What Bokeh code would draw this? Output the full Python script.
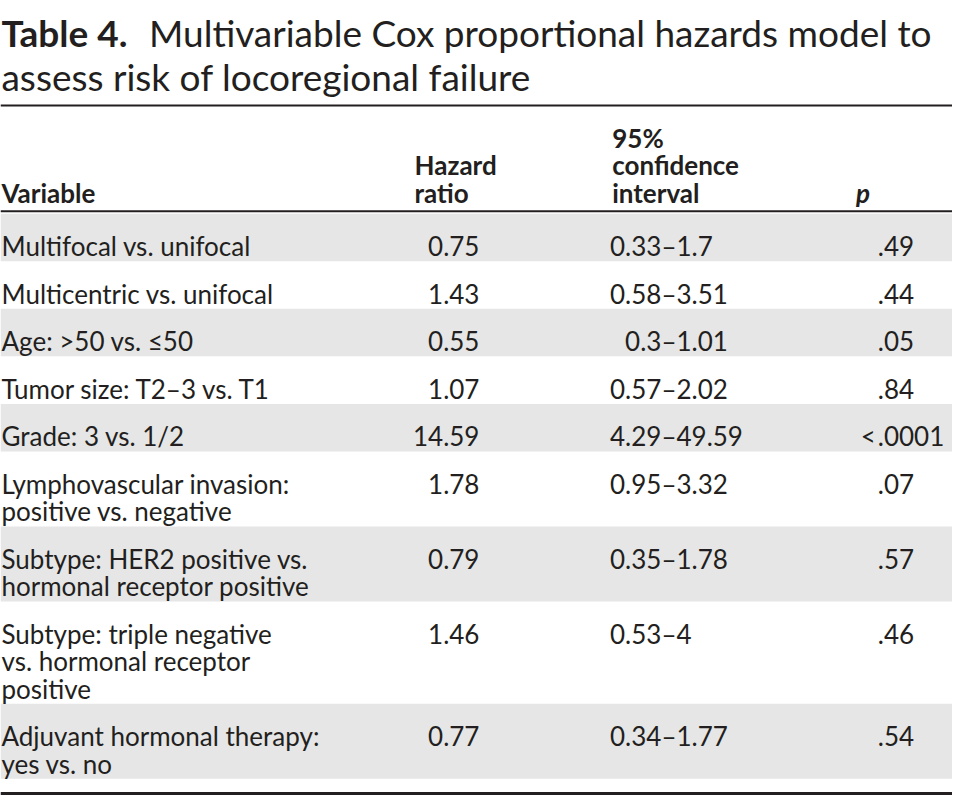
from bokeh.plotting import figure
from bokeh.models import Range1d, ColumnDataSource
from bokeh.core.properties import value
from bokeh.embed import file_html
from bokeh.resources import INLINE

# ---------------- data ----------------
title_label = "Table 4."
title_lines = ["Multivariable Cox proportional hazards model to",
               "assess risk of locoregional failure"]
header_variable = ["Variable"]
header_hr = ["Hazard", "ratio"]
header_ci = ["95%", "confidence", "interval"]
header_p = ["p"]

variables = [
    "Multifocal vs. unifocal",
    "Multicentric vs. unifocal",
    "Age: >50 vs. \u226450",
    "Tumor size: T2\u20133 vs. T1",
    "Grade: 3 vs. 1/2",
    "Lymphovascular invasion:\npositive vs. negative",
    "Subtype: HER2 positive vs.\nhormonal receptor positive",
    "Subtype: triple negative\nvs. hormonal receptor\npositive",
    "Adjuvant hormonal therapy:\nyes vs. no",
]
hazard_ratio = [0.75, 1.43, 0.55, 1.07, 14.59, 1.78, 0.79, 1.46, 0.77]
ci_low = [0.33, 0.58, 0.3, 0.57, 4.29, 0.95, 0.35, 0.53, 0.34]
ci_high = [1.7, 3.51, 1.01, 2.02, 49.59, 3.32, 1.78, 4, 1.77]
p_values = [".49", ".44", ".05", ".84", "<.0001", ".07", ".57", ".46", ".54"]

# ---------------- style / layout ----------------
FONT = "Lato"
TXT = "#231f20"
SHADE = "#e6e6e6"
BODY = "26px"
TITLE = "37px"

W, H = 952, 795
XMAX, YMAX = 968, 811

p = figure(width=W, height=H, x_range=Range1d(0, XMAX), y_range=Range1d(YMAX, 0),
           output_backend="svg", toolbar_location=None, min_border=0,
           x_axis_location=None, y_axis_location=None)
p.grid.visible = False
p.outline_line_color = None
p.background_fill_color = "white"
p.border_fill_color = "white"


def put(xs, ys, texts, align="left", style="normal", size=BODY):
    src = ColumnDataSource(dict(x=xs, y=ys, t=texts))
    p.text(x="x", y="y", text="t", source=src, text_font=value(FONT),
           text_font_size=value(size), text_font_style=style,
           text_color=TXT, text_align=align, text_baseline="alphabetic")


# title
put([1], [33], [title_label], style="bold", size=TITLE)
put([151], [33], [title_lines[0]], size=TITLE)
put([1], [78], [title_lines[1]], size=TITLE)

# header (bottom aligned)
HB = 196
LH_H = 28
def header(lines, x, style="bold"):
    n = len(lines)
    ys = [HB - (n - 1 - i) * LH_H for i in range(n)]
    put([x] * n, ys, lines, style=style)

COL_VAR = 1
COL_HR_L = 421
COL_HR_R = 487
COL_CI_L = 622
COL_CI_DASH = 672
COL_P_HEAD = 870
COL_P_DOT = 892

header(header_variable, COL_VAR)
header(header_hr, COL_HR_L)
header(header_ci, COL_CI_L)
header(header_p, COL_P_HEAD, style="bold italic")

# rows
TOP0 = 217.5
LH = 28.0
PAD = 20.5
CAP_HALF = 9

lines_per_row = [v.split("\n") for v in variables]
tops, bottoms = [], []
cur = TOP0
for ln in lines_per_row:
    h = PAD + LH * len(ln)
    tops.append(cur)
    bottoms.append(cur + h)
    cur += h

shade_idx = [i for i in range(len(variables)) if i % 2 == 0]
p.quad(left=0, right=XMAX, top=[tops[i] for i in shade_idx],
       bottom=[bottoms[i] for i in shade_idx], fill_color=SHADE, line_color=None)

vx, vy, vt = [], [], []
first_base = []
for i, ln in enumerate(lines_per_row):
    n = len(ln)
    c = (tops[i] + bottoms[i]) / 2
    for j, s in enumerate(ln):
        vx.append(COL_VAR)
        vy.append(c + (j - (n - 1) / 2) * LH + CAP_HALF)
        vt.append(s)
    first_base.append(c - (n - 1) / 2 * LH + CAP_HALF)
put(vx, vy, vt)

put([COL_HR_R] * len(hazard_ratio), first_base, [f"{v:.2f}" for v in hazard_ratio], align="right")
put([COL_CI_DASH] * len(ci_low), first_base, [f"{v:g}" for v in ci_low], align="right")
put([COL_CI_DASH] * len(ci_high), first_base, [f"\u2013{v:g}" for v in ci_high], align="left")

p_pre = [s.split(".")[0] for s in p_values]
p_post = ["." + s.split(".", 1)[1] for s in p_values]
pre_idx = [i for i, s in enumerate(p_pre) if s]
put([COL_P_DOT - 2] * len(pre_idx), [first_base[i] for i in pre_idx], [p_pre[i] for i in pre_idx], align="right")
put([COL_P_DOT] * len(p_post), first_base, p_post, align="left")

# rules
p.segment(x0=[0, 0], x1=[XMAX, XMAX], y0=[107, 215], y1=[107, 215], line_color=TXT, line_width=2)
p.segment(x0=[0], x1=[XMAX], y0=[bottoms[-1] + 15], y1=[bottoms[-1] + 15], line_color=TXT, line_width=3)

open("out.html", "w").write(file_html(p, INLINE))
